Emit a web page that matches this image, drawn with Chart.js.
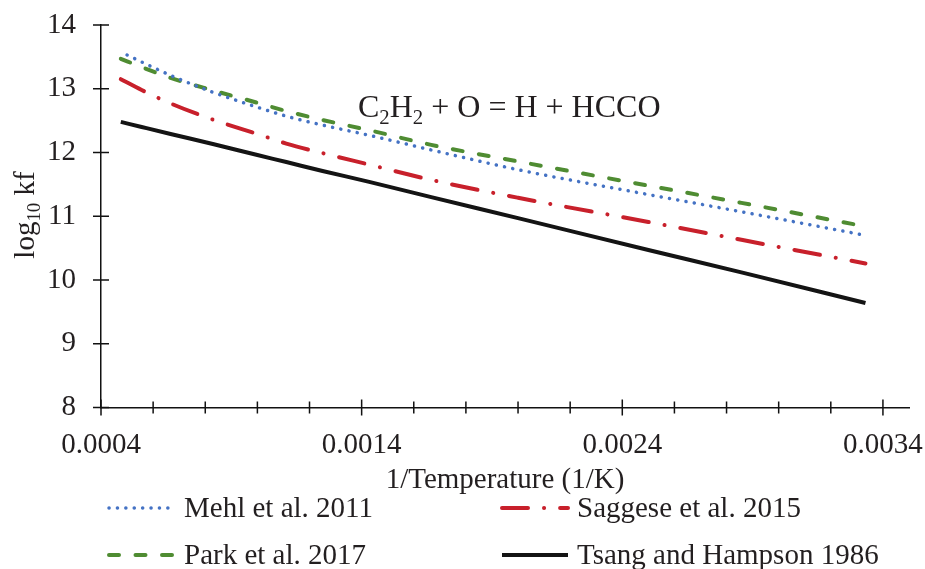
<!DOCTYPE html>
<html>
<head>
<meta charset="utf-8">
<script src="https://cdn.jsdelivr.net/npm/chart.js@4.4.1/dist/chart.umd.min.js"></script>
<style>
  html, body { margin: 0; padding: 0; background: #fff; }
  #wrap { width: 925px; height: 569px; }
</style>
</head>
<body>
<div id="wrap"><canvas id="chart" width="925" height="569"></canvas></div>
<script>
// ---- data ----
var invTemp = [0.000476, 0.000556, 0.000667, 0.000833, 0.001, 0.001111, 0.00125, 0.001429, 0.001667, 0.002, 0.0025, 0.002857, 0.003333];
var mehlInvTemp = [0.0005, 0.000556, 0.000667, 0.000833, 0.001, 0.001111, 0.00125, 0.001429, 0.001667, 0.002, 0.0025, 0.002857, 0.003333];

var mehl2011 = [13.53, 13.42, 13.21, 12.94, 12.71, 12.57, 12.43, 12.27, 12.04, 11.73, 11.34, 11.07, 10.70];
var saggese2015 = [13.15, 12.98, 12.77, 12.51, 12.29, 12.14, 11.99, 11.81, 11.57, 11.29, 10.91, 10.63, 10.26];
var park2017 = [13.47, 13.34, 13.17, 12.97, 12.78, 12.65, 12.51, 12.35, 12.12, 11.86, 11.48, 11.21, 10.84];
var tsang1986 = [12.48, 12.40, 12.29, 12.13, 11.96, 11.85, 11.71, 11.54, 11.30, 10.97, 10.47, 10.12, 9.64];

var seriesNames = ["Mehl et al. 2011", "Saggese et al. 2015", "Park et al. 2017", "Tsang and Hampson 1986"];
var xTickLabels = [0.0004, 0.0014, 0.0024, 0.0034];
var yTickLabels = [8, 9, 10, 11, 12, 13, 14];

var FONT = "'Liberation Serif', 'Times New Roman', serif";
var TXT = '#231f20';

function pts(xs, ys) {
  return ys.map(function (v, i) { return { x: xs[i], y: v }; });
}

// text with subscripts
function richText(ctx, parts, x, y, size, align) {
  var w = 0;
  parts.forEach(function (p) {
    ctx.font = (p.sub ? size * 0.65 : size) + 'px ' + FONT;
    w += ctx.measureText(p.t).width;
  });
  var cx = align == 'center' ? x - w / 2 : x;
  parts.forEach(function (p) {
    ctx.font = (p.sub ? size * 0.65 : size) + 'px ' + FONT;
    ctx.fillText(p.t, cx, p.sub ? y + size * 0.22 : y);
    cx += ctx.measureText(p.t).width;
  });
}

var decor = {
  id: 'decor',
  afterDraw: function (chart) {
    var ctx = chart.ctx;
    var xs = chart.scales.x, ys = chart.scales.y;
    var ca = chart.chartArea;
    ctx.save();

    // tick marks crossing the axes
    ctx.strokeStyle = '#111';
    ctx.lineWidth = 1.5;
    ctx.beginPath();
    for (var i = 0; i <= 15; i++) {
      var px = xs.getPixelForValue(0.0004 + i * 0.0002);
      var len = (i % 5 == 0) ? 8 : 6;
      ctx.moveTo(px, ca.bottom - len);
      ctx.lineTo(px, ca.bottom + len);
    }
    yTickLabels.forEach(function (v) {
      var py = ys.getPixelForValue(v);
      ctx.moveTo(ca.left - 8, py);
      ctx.lineTo(ca.left + 8, py);
    });
    ctx.stroke();

    ctx.fillStyle = TXT;
    ctx.textBaseline = 'alphabetic';
    ctx.textAlign = 'left';

    // reaction label
    richText(ctx, [{t:'C'},{t:'2',sub:true},{t:'H'},{t:'2',sub:true},{t:' + O = H + HCCO'}], 358, 117, 32, 'left');

    // x title
    richText(ctx, [{t:'1/Temperature (1/K)'}], (ca.left + ca.right) / 2, 488, 29, 'center');

    // y title
    ctx.save();
    ctx.translate(34, 215);
    ctx.rotate(-Math.PI / 2);
    richText(ctx, [{t:'log'},{t:'10',sub:true},{t:' kf'}], 0, 0, 29, 'center');
    ctx.restore();

    // legend
    var slots = [[107, 508], [500, 508], [107, 555], [500, 555]];
    chart.data.datasets.forEach(function (ds, k) {
      var s = slots[k];
      ctx.save();
      ctx.strokeStyle = ds.borderColor;
      ctx.lineWidth = ds.borderWidth;
      ctx.lineCap = ds.borderCapStyle || 'butt';
      ctx.setLineDash(ds.borderDash || []);
      ctx.beginPath();
      ctx.moveTo(s[0] + 2, s[1]);
      ctx.lineTo(s[0] + 68, s[1]);
      ctx.stroke();
      ctx.restore();
      ctx.fillStyle = TXT;
      ctx.font = '29px ' + FONT;
      ctx.textBaseline = 'middle';
      ctx.fillText(ds.label, s[0] + 77, s[1] + 1);
    });
    ctx.restore();
  }
};

var grafico = new Chart(document.getElementById('chart'), {
  type: 'line',
  data: {
    datasets: [{
      label: seriesNames[0],
      data: pts(mehlInvTemp, mehl2011),
      borderColor: '#4472c4',
      borderWidth: 3.5,
      borderDash: [0.1, 8.3],
      borderCapStyle: 'round',
      fill: false
    }, {
      label: seriesNames[1],
      data: pts(invTemp, saggese2015),
      borderColor: '#c8202b',
      borderWidth: 4,
      borderDash: [26, 16, 0.1, 16],
      borderCapStyle: 'round',
      fill: false
    }, {
      label: seriesNames[2],
      data: pts(invTemp, park2017),
      borderColor: '#4f8c32',
      borderWidth: 4,
      borderDash: [10, 16.5],
      borderCapStyle: 'round',
      fill: false
    }, {
      label: seriesNames[3],
      data: pts(invTemp, tsang1986),
      borderColor: '#141414',
      borderWidth: 4,
      fill: false
    }]
  },
  options: {
    responsive: false,
    animation: false,
    devicePixelRatio: 1,
    layout: { padding: { top: 25, right: 16, left: 0, bottom: 0 } },
    elements: { point: { radius: 0 }, line: { tension: 0.3, cubicInterpolationMode: 'monotone' } },
    plugins: { legend: { display: false }, tooltip: { enabled: false } },
    scales: {
      x: {
        type: 'linear',
        min: 0.0004,
        max: 0.0035,
        grid: { display: false },
        border: { display: true, color: '#111', width: 1.5 },
        afterBuildTicks: function (s) { s.ticks = xTickLabels.map(function (v) { return { value: v }; }); },
        afterFit: function (s) {
          s.height = 569 - 407.5;
          s.paddingLeft = 0; s.paddingRight = 0;
        },
        ticks: {
          padding: 12,
          maxRotation: 0,
          autoSkip: false,
          color: TXT,
          font: { family: FONT, size: 29 },
          callback: function (v) { return Number(v).toFixed(4); }
        }
      },
      y: {
        min: 8,
        max: 14,
        grid: { display: false },
        border: { display: true, color: '#111', width: 1.5 },
        afterBuildTicks: function (s) { s.ticks = yTickLabels.map(function (v) { return { value: v }; }); },
        afterFit: function (s) {
          s.width = 101;
          s.paddingTop = 0; s.paddingBottom = 0;
        },
        ticks: {
          padding: 17,
          color: TXT,
          font: { family: FONT, size: 29 }
        }
      }
    }
  },
  plugins: [decor]
});
</script>
</body>
</html>
